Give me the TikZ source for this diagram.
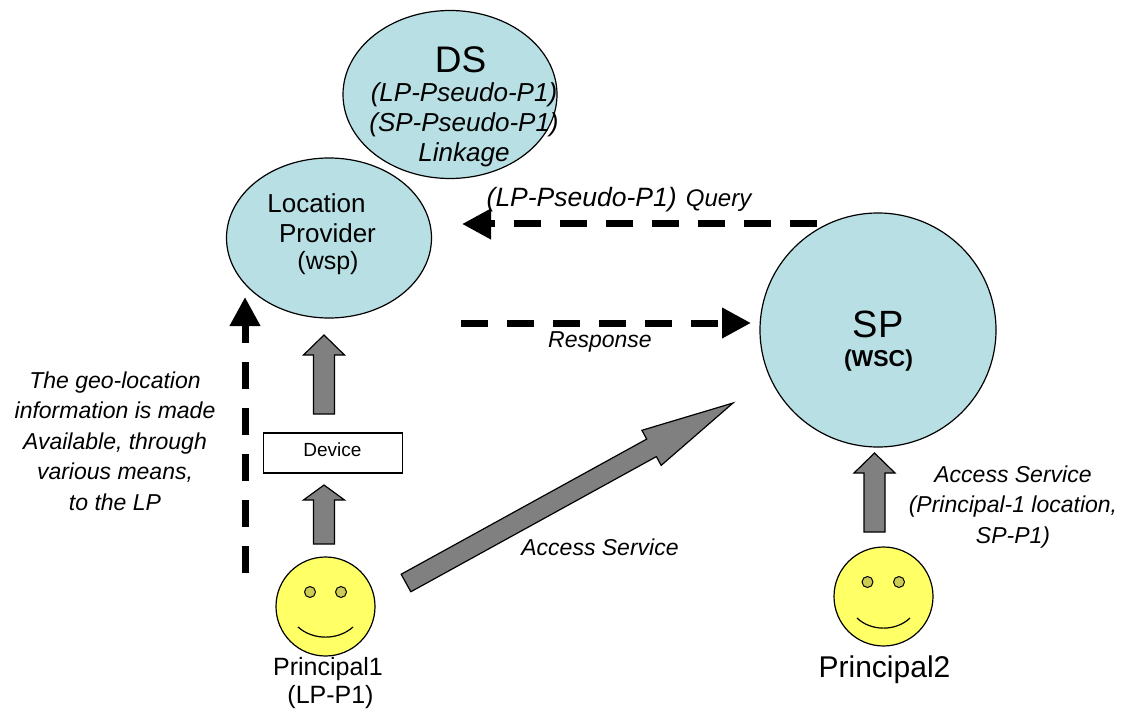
\documentclass[tikz,border=0pt]{standalone}
\usepackage{fontspec}
\setmainfont{Liberation Sans}
\usetikzlibrary{shapes.geometric,arrows.meta,calc}
\definecolor{cyanfill}{HTML}{B8DFE3}
\definecolor{faceyellow}{HTML}{FFFF66}
\definecolor{eyeyellow}{HTML}{CCCC52}
\definecolor{arrowgray}{HTML}{808080}
\tikzset{
  bubble/.style={ellipse,draw=black,line width=1.2pt,fill=cyanfill,inner sep=0pt,align=center},
  facebody/.style={ellipse,draw=black,line width=1.2pt,fill=faceyellow,inner sep=0pt},
  eye/.style={circle,draw=black,line width=1pt,fill=eyeyellow,inner sep=0pt,minimum size=11pt},
  smile/.style={draw=black,line width=1.2pt},
  dashlink/.style={line width=7pt,dash pattern=on 27pt off 19pt,-{Triangle[length=29pt,width=29pt]}},
  blockarrow/.style={draw=black,line width=1.2pt,fill=arrowgray,line join=miter},
  lbl/.style={inner sep=0pt,align=center,font=\fontsize{23}{30.5}\selectfont\itshape},
}
% tail, tip, half body, half head, head length
\newcommand{\blockarrow}[5]{%
  \draw[blockarrow]
    ($(#1)!#3pt!90:(#2)$) --
    ($($(#2)!#5pt!(#1)$)!#3pt!90:(#2)$) --
    ($($(#2)!#5pt!(#1)$)!#4pt!90:(#2)$) --
    (#2) --
    ($($(#2)!#5pt!(#1)$)!#4pt!-90:(#2)$) --
    ($($(#2)!#5pt!(#1)$)!#3pt!-90:(#2)$) --
    ($(#1)!#3pt!-90:(#2)$) -- cycle;}
\begin{document}
\begin{tikzpicture}[x=1pt,y=-1pt]
\useasboundingbox (0,0) rectangle (1126,719);

% bubbles
\node[bubble,minimum width=214pt,minimum height=168pt] (ds) at (450,94.5) {};
\node[bubble,minimum width=205pt,minimum height=160pt] (lp) at (329,238) {};
\node[bubble,minimum width=236pt,minimum height=234pt] (sp) at (878,330) {};

\node[inner sep=0pt,font=\fontsize{37}{40}\selectfont] (dst) at (460.5,60) {DS};
\node[lbl,font=\fontsize{26}{30}\selectfont\itshape] (dsl) at (464,124.5) {(LP-Pseudo-P1)\\(SP-Pseudo-P1)\\Linkage};

\node[inner sep=0pt,font=\fontsize{26}{30}\selectfont] (lpa) at (316.5,203.5) {Location};
\node[inner sep=0pt,font=\fontsize{26}{30}\selectfont] (lpb) at (327.5,233) {Provider};
\node[inner sep=0pt,font=\fontsize{25}{30}\selectfont] (lpc) at (328,263) {(wsp)};

\node[inner sep=0pt,font=\fontsize{38}{40}\selectfont] (spt) at (878,324) {SP};
\node[inner sep=0pt,font=\bfseries\fontsize{23}{26}\selectfont] (spw) at (878.5,361) {(WSC)};

% device
\node[draw=black,line width=1.2pt,fill=white,minimum width=139pt,minimum height=40pt,inner sep=0pt] (dev) at (333,453) {};
\node[inner sep=0pt,font=\fontsize{19}{22}\selectfont] (devt) at (332.5,449.5) {Device};

% faces
\node[facebody,minimum width=99pt,minimum height=99pt] (f1) at (325.5,606.5) {};
\node[eye] (f1a) at (310,592) {};
\node[eye] (f1b) at (341,592) {};
\coordinate (f1l) at (298,627);
\coordinate (f1r) at (353,627);
\draw[smile] (f1l) .. controls (313,640.5) and (338,640.5) .. (f1r);

\node[facebody,minimum width=99pt,minimum height=99pt] (f2) at (883.5,596.5) {};
\node[eye] (f2a) at (867.5,582) {};
\node[eye] (f2b) at (899,582) {};
\coordinate (f2l) at (857,618);
\coordinate (f2r) at (910,618);
\draw[smile] (f2l) .. controls (871,631.5) and (896,631.5) .. (f2r);

\node[inner sep=0pt,font=\fontsize{25}{30}\selectfont] (p1) at (328,669.5) {Principal1};
\node[inner sep=0pt,font=\fontsize{25}{30}\selectfont] (p1b) at (330.5,697.5) {(LP-P1)};
\node[inner sep=0pt,font=\fontsize{30}{34}\selectfont] (p2) at (884.5,670) {Principal2};

% block arrows
\coordinate (a1s) at (324,414); \coordinate (a1e) at (324,335);
\blockarrow{a1s}{a1e}{10.5}{20.5}{20}
\coordinate (a2s) at (324,544); \coordinate (a2e) at (324,485);
\blockarrow{a2s}{a2e}{10.5}{20.5}{15}
\coordinate (a3s) at (406,583); \coordinate (a3e) at (733,403);
\blockarrow{a3s}{a3e}{10}{20}{93}
\coordinate (a4s) at (874.5,532); \coordinate (a4e) at (874.5,453);
\blockarrow{a4s}{a4e}{10.5}{20.5}{20}

% dashed connectors
\coordinate (l1s) at (245,572.5); \coordinate (l1e) at (245,297);
\draw[dashlink] (l1s) -- (l1e);
\coordinate (q1s) at (817,224); \coordinate (q1e) at (462,224);
\draw[dashlink] (q1s) -- (q1e);
\coordinate (r1s) at (461,323); \coordinate (r1e) at (751,323);
\draw[dashlink] (r1s) -- (r1e);

% labels
\node[lbl] (q) at (619,200) {\fontsize{26.5}{30}\selectfont (LP-Pseudo-P1)\hspace{0.35em}\fontsize{24}{30}\selectfont Query};
\node[lbl] (resp) at (600,342) {Response};
\node[lbl] (geo) at (115,441) {The geo-location\\information is made\\Available, through\\various means,\\to the LP};
\node[lbl] (acc) at (600,547) {Access Service};
\node[lbl] (acc2) at (1013,507) {Access Service\\(Principal-1 location,\\SP-P1)};
\end{tikzpicture}
\end{document}
